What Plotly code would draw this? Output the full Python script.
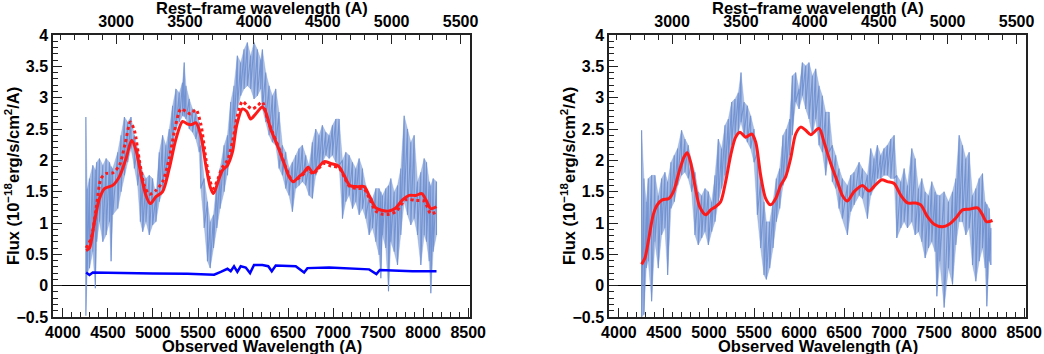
import plotly.graph_objects as go

# ---------------- data ----------------
redshift = 0.53
x_range = [3890, 8520]
y_range = [-0.5, 4.0]

# Left panel: observed spectrum envelope (wavelength, upper, lower)
lam_L = [4255, 4270, 4295, 4332, 4360, 4375, 4406, 4443, 4480, 4517, 4535, 4553, 4609, 4646, 4683,
         4719, 4756, 4793, 4830, 4860, 4886, 4922, 4959, 4996, 5033, 5070, 5107, 5144, 5181, 5218,
         5255, 5292, 5328, 5347, 5366, 5403, 5439, 5476, 5513, 5531, 5568, 5605, 5635, 5672, 5709,
         5745, 5790, 5827, 5863, 5900, 5937, 5974, 6011, 6048, 6085, 6122, 6159, 6196, 6215, 6252,
         6289, 6326, 6363, 6400, 6437, 6474, 6511, 6548, 6585, 6622, 6659, 6696, 6733, 6770, 6807,
         6844, 6881, 6919, 6956, 6993, 7030, 7067, 7104, 7141, 7178, 7215, 7252, 7289, 7326, 7363,
         7400, 7437, 7474, 7511, 7530, 7548, 7585, 7615, 7641, 7678, 7715, 7752, 7789, 7826, 7863,
         7900, 7937, 7974, 8011, 8037, 8067, 8085, 8111, 8148]
up_L = [2.69, 1.55, 1.71, 1.92, 1.85, 1.97, 2.03, 1.92, 2.03, 1.97, 1.90, 1.87, 2.13, 2.40, 2.69,
        2.61, 2.69, 2.40, 2.19, 1.97, 1.81, 1.71, 1.76, 1.71, 1.44, 2.13, 2.40, 2.24, 2.50, 2.87,
        3.14, 3.08, 3.24, 3.56, 3.19, 2.98, 2.82, 2.77, 2.61, 2.24, 1.71, 1.34, 1.02, 1.13, 1.66,
        1.87, 2.24, 2.40, 2.93, 3.19, 3.67, 3.56, 3.77, 3.88, 3.67, 3.88, 3.77, 3.61, 3.77, 3.40,
        3.19, 3.03, 3.14, 2.77, 2.24, 2.13, 1.87, 1.97, 2.08, 2.19, 2.24, 2.08, 1.92, 2.29, 2.50,
        2.40, 2.56, 2.45, 2.40, 2.56, 2.66, 2.66, 2.00, 2.13, 2.08, 1.97, 1.87, 2.03, 1.87, 1.60,
        1.44, 1.39, 1.55, 1.55, 1.50, 1.44, 1.55, 1.60, 1.71, 1.50, 1.60, 1.87, 2.71, 2.50, 2.29,
        2.40, 1.66, 1.81, 2.03, 1.97, 1.66, 1.60, 1.71, 1.66]
lo_L = [-0.48, 0.20, 0.28, 0.54, -0.04, 0.70, 1.02, 0.70, 0.81, 1.02, 0.39, 1.13, 1.23, 1.50, 1.76,
        1.97, 2.19, 1.87, 1.60, 1.02, 0.86, 1.02, 0.81, 0.97, 1.02, 1.34, 1.50, 1.66, 1.97, 2.24,
        2.50, 2.61, 2.71, 2.70, 2.66, 2.50, 2.45, 2.34, 2.13, 1.55, 0.92, 0.39, 0.28, 0.60, 0.92,
        1.23, 1.50, 1.76, 2.08, 2.40, 2.82, 3.03, 3.14, 3.19, 3.14, 2.98, 3.03, 3.14, 2.82, 2.61,
        2.40, 2.29, 2.24, 1.87, 1.76, 1.55, 1.44, 1.18, 1.55, 1.60, 1.66, 1.60, 1.44, 1.39, 1.76,
        1.87, 1.97, 2.08, 2.03, 2.08, 1.97, 1.92, 1.07, 1.34, 1.44, 1.23, 1.34, 1.13, 1.23, 1.07,
        0.81, 0.92, 0.70, 0.49, 0.12, 0.81, 0.60, -0.09, 0.70, 0.54, 0.33, 0.81, 1.34, 1.13, 0.97,
        1.07, 0.81, 0.33, 0.81, 0.70, 0.39, -0.12, 0.54, 0.81]

# Left panel: fit (solid), alternative fit (dotted), host/sky component (blue)
lamfit_L = [4258, 4295, 4350, 4406, 4461, 4553, 4627, 4701, 4764, 4812, 4875, 4922, 4970, 5033, 5107,
            5181, 5255, 5328, 5384, 5428, 5476, 5531, 5587, 5635, 5672, 5723, 5771, 5827, 5882, 5930,
            5993, 6041, 6085, 6140, 6214, 6252, 6307, 6381, 6456, 6511, 6556, 6622, 6678, 6722, 6778,
            6826, 6900, 6974, 7059, 7122, 7185, 7270, 7344, 7400, 7474, 7548, 7622, 7696, 7770, 7844,
            7919, 7985, 8030, 8085, 8148]
fit_L = [0.56, 0.60, 1.02, 1.39, 1.55, 1.60, 1.74, 2.03, 2.32, 2.16, 1.71, 1.44, 1.31, 1.42, 1.50,
         1.87, 2.34, 2.62, 2.58, 2.57, 2.60, 2.40, 1.92, 1.58, 1.47, 1.66, 1.84, 1.92, 2.13, 2.56,
         2.82, 2.78, 2.66, 2.74, 2.85, 2.77, 2.50, 2.24, 1.95, 1.74, 1.66, 1.74, 1.81, 1.89, 1.80,
         1.87, 1.98, 1.95, 1.91, 1.76, 1.60, 1.58, 1.58, 1.44, 1.24, 1.20, 1.19, 1.24, 1.37, 1.44,
         1.44, 1.47, 1.37, 1.23, 1.26]

lamdot_L = [4258, 4314, 4369, 4424, 4480, 4553, 4627, 4690, 4749, 4793, 4849, 4904, 4959, 5033, 5107,
            5181, 5236, 5310, 5366, 5421, 5476, 5531, 5587, 5635, 5672, 5723, 5771, 5827, 5882, 5937,
            5993, 6048, 6103, 6159, 6214, 6270, 6326, 6400, 6474, 6556, 6622, 6678, 6722, 6778, 6826,
            6900, 6974, 7067, 7122, 7185, 7270, 7344, 7400, 7474, 7548, 7622, 7696, 7807, 7919, 8011,
            8085, 8148]
dot_L = [0.60, 0.76, 1.23, 1.71, 1.79, 1.80, 1.92, 2.26, 2.61, 2.48, 2.00, 1.60, 1.46, 1.52, 1.66,
         2.03, 2.45, 2.82, 2.78, 2.74, 2.81, 2.58, 2.03, 1.66, 1.55, 1.71, 1.89, 2.00, 2.29, 2.71,
         2.94, 2.87, 2.82, 2.87, 2.93, 2.66, 2.45, 2.19, 1.89, 1.66, 1.72, 1.79, 1.86, 1.78, 1.85,
         1.95, 1.91, 1.88, 1.74, 1.58, 1.55, 1.54, 1.40, 1.19, 1.14, 1.14, 1.18, 1.37, 1.36, 1.35,
         1.15, 1.18]

lamhost_L = [4258, 4280, 4295, 4332, 4600, 5000, 5384, 5568, 5679, 5753, 5827, 5863, 5900, 5937, 5974,
             6030, 6078, 6122, 6214, 6280, 6319, 6363, 6585, 6678, 6715, 6956, 7400, 7481, 7519, 7881,
             8148]
host_L = [0.21, 0.19, 0.17, 0.21, 0.20, 0.195, 0.19, 0.185, 0.175, 0.22, 0.27, 0.23, 0.31, 0.22, 0.31,
          0.29, 0.20, 0.33, 0.33, 0.31, 0.23, 0.32, 0.31, 0.21, 0.28, 0.29, 0.26, 0.185, 0.25, 0.23,
          0.23]

# Right panel: observed spectrum envelope
lam_R = [4252, 4278, 4304, 4326, 4363, 4400, 4437, 4474, 4511, 4541, 4578, 4615, 4652, 4696, 4733,
         4770, 4807, 4844, 4881, 4919, 4956, 4993, 5030, 5067, 5104, 5141, 5178, 5215, 5252, 5289,
         5326, 5356, 5389, 5426, 5463, 5500, 5537, 5574, 5611, 5637, 5674, 5711, 5748, 5785, 5822,
         5859, 5896, 5926, 5963, 6000, 6037, 6074, 6111, 6148, 6185, 6222, 6259, 6296, 6333, 6370,
         6407, 6444, 6481, 6537, 6574, 6611, 6667, 6704, 6759, 6796, 6833, 6870, 6907, 6944, 6981,
         7019, 7056, 7085, 7130, 7167, 7204, 7252, 7289, 7326, 7363, 7400, 7437, 7474, 7511, 7530,
         7563, 7611, 7659, 7704, 7741, 7778, 7815, 7852, 7889, 7926, 7963, 8000, 8037, 8067, 8085,
         8111, 8130]
up_R = [2.48, 1.71, 1.34, 1.71, 1.76, 1.76, 1.44, 1.71, 1.81, 1.66, 1.97, 2.08, 2.19, 2.48, 2.34,
        2.24, 1.97, 1.81, 1.50, 1.44, 1.55, 1.50, 1.34, 1.76, 2.34, 2.19, 2.56, 2.66, 2.93, 2.98,
        3.08, 3.40, 2.93, 2.87, 2.71, 2.50, 2.13, 1.66, 1.34, 1.02, 1.02, 1.34, 1.71, 1.87, 2.40,
        2.50, 2.66, 3.35, 3.40, 3.14, 3.56, 3.51, 3.56, 3.35, 3.46, 3.19, 3.03, 2.77, 2.77, 2.24,
        2.08, 1.87, 1.71, 1.60, 1.76, 1.81, 1.97, 1.87, 1.76, 2.19, 2.03, 2.24, 2.08, 2.19, 2.24,
        2.34, 2.40, 1.76, 1.66, 1.87, 1.60, 2.19, 2.03, 1.55, 1.71, 1.50, 1.44, 1.66, 1.50, 1.45,
        1.44, 1.50, 1.34, 1.50, 1.71, 2.40, 2.24, 2.03, 2.13, 1.44, 1.55, 1.71, 1.79, 1.34, 1.30,
        1.23, 0.92]
lo_R = [-0.50, -0.46, 0.28, 0.39, -0.25, 0.70, 0.28, 0.81, 0.92, 0.17, 1.23, 1.34, 1.60, 1.76, 1.81,
        1.71, 1.50, 0.81, 0.65, 0.76, 0.86, 0.65, 0.86, 1.02, 1.34, 1.55, 1.76, 1.97, 2.24, 2.40,
        2.45, 2.61, 2.40, 2.29, 2.19, 1.97, 1.13, 0.60, 0.17, 0.10, 0.28, 0.60, 1.02, 1.23, 1.60,
        1.76, 2.08, 2.40, 2.93, 2.82, 3.03, 2.82, 2.66, 2.40, 2.66, 2.24, 2.13, 1.76, 2.13, 1.66,
        1.55, 1.23, 1.07, 0.81, 1.18, 1.29, 1.44, 1.39, 1.07, 1.44, 1.55, 1.71, 1.71, 1.76, 1.76,
        1.71, 1.71, 0.76, 0.92, 1.02, 0.92, 1.02, 0.81, 0.86, 0.70, 0.44, 0.60, 0.70, 0.54, -0.17,
        0.39, -0.35, 0.28, 0.02, 0.65, 1.02, 1.02, 0.81, 0.92, 0.33, 0.07, 0.39, 0.60, 0.28, -0.33,
        0.39, 0.33]

# Right panel: fit (solid)
lamfit_R = [4252, 4289, 4333, 4381, 4426, 4481, 4556, 4611, 4667, 4722, 4759, 4796, 4844, 4896, 4963,
            5019, 5074, 5130, 5185, 5241, 5296, 5344, 5407, 5474, 5519, 5574, 5630, 5685, 5741, 5796,
            5852, 5907, 5963, 6019, 6074, 6130, 6222, 6278, 6352, 6426, 6481, 6537, 6611, 6704, 6778,
            6844, 6919, 6981, 7056, 7130, 7204, 7296, 7352, 7426, 7500, 7593, 7667, 7741, 7815, 7889,
            7982, 8030, 8082, 8148]
fit_R = [0.34, 0.44, 0.76, 1.13, 1.29, 1.37, 1.39, 1.52, 1.81, 2.05, 2.12, 1.97, 1.60, 1.26, 1.13,
         1.21, 1.26, 1.34, 1.66, 2.08, 2.37, 2.45, 2.37, 2.42, 2.29, 1.76, 1.39, 1.29, 1.39, 1.60,
         1.74, 2.03, 2.42, 2.53, 2.48, 2.41, 2.51, 2.29, 1.95, 1.66, 1.44, 1.35, 1.50, 1.60, 1.51,
         1.60, 1.69, 1.66, 1.63, 1.44, 1.32, 1.32, 1.29, 1.10, 0.98, 0.94, 0.98, 1.08, 1.21, 1.22,
         1.24, 1.15, 1.02, 1.04]

x_title = "Observed Wavelength (A)"
top_title = "Rest\u2013frame wavelength (A)"
y_title = "Flux (10<sup>\u221218</sup>erg/s/cm<sup>2</sup>/A)"

# ---------------- styling ----------------
W, H = 1044, 354
FONT = "Liberation Sans, Arial, sans-serif"
SPEC_FILL = "rgba(120,152,212,0.62)"
SPEC_LINE = "rgba(112,144,210,0.95)"
RED = "#ff1a1a"
BLUE = "#0000ff"
FS = 16.5
FS_TICK = 16

# plot area pixel boxes in page coordinates (left, right, top, bottom)
panels = [(53, 470, 35, 317), (609, 1026, 35, 317)]


def px(v):
    return v / W


def py(v):
    return 1 - v / H


fig = go.Figure()


def spectrum(lam, up, lo, xa, ya):
    # light envelope of the noisy spectrum
    env = go.Scatter(x=list(lam) + list(lam[::-1]), y=list(up) + list(lo[::-1]),
                     fill="toself", fillcolor=SPEC_FILL, mode="lines",
                     line=dict(color=SPEC_FILL, width=0.5), xaxis=xa, yaxis=ya,
                     showlegend=False, hoverinfo="skip")
    # the jagged spectrum itself: swings between the read maxima and minima
    zx, zy = [], []
    for l, u, d in zip(lam, up, lo):
        zx += [l, l]
        zy += [u, d]
    jag = go.Scatter(x=zx, y=zy, mode="lines", line=dict(color=SPEC_LINE, width=1.1),
                     xaxis=xa, yaxis=ya, showlegend=False, hoverinfo="skip")
    return [env, jag]


# left panel traces
fig.add_traces(spectrum(lam_L, up_L, lo_L, "x", "y"))
fig.add_trace(go.Scatter(x=lamdot_L, y=dot_L, mode="lines", xaxis="x", yaxis="y",
                         line=dict(color=RED, width=3, dash="dot", shape="spline", smoothing=0.8),
                         showlegend=False))
fig.add_trace(go.Scatter(x=lamfit_L, y=fit_L, mode="lines", xaxis="x", yaxis="y",
                         line=dict(color=RED, width=3, shape="spline", smoothing=0.8),
                         showlegend=False))
fig.add_trace(go.Scatter(x=lamhost_L, y=host_L, mode="lines", xaxis="x", yaxis="y",
                         line=dict(color=BLUE, width=2.5), showlegend=False))
# invisible trace anchoring the rest-frame axis of the left panel
fig.add_trace(go.Scatter(x=[l / (1 + redshift) for l in lamfit_L], y=fit_L, mode="lines",
                         xaxis="x3", yaxis="y", opacity=0, showlegend=False, hoverinfo="skip"))

# right panel traces
fig.add_traces(spectrum(lam_R, up_R, lo_R, "x2", "y2"))
fig.add_trace(go.Scatter(x=lamfit_R, y=fit_R, mode="lines", xaxis="x2", yaxis="y2",
                         line=dict(color=RED, width=3, shape="spline", smoothing=0.8),
                         showlegend=False))
fig.add_trace(go.Scatter(x=[l / (1 + redshift) for l in lamfit_R], y=fit_R, mode="lines",
                         xaxis="x4", yaxis="y2", opacity=0, showlegend=False, hoverinfo="skip"))

tickfont = dict(family=FONT, size=FS_TICK, color="black", weight="bold")


def xaxis_cfg(dom, anchor, rng, side="bottom", overlay=None):
    d = dict(domain=dom, anchor=anchor, range=rng, side=side, dtick=500, tick0=0,
             ticks="inside", ticklen=9, tickwidth=1.2, tickcolor="#222",
             minor=dict(dtick=100, ticks="inside", ticklen=5, tickwidth=1, tickcolor="#222",
                        showgrid=False),
             showgrid=False, zeroline=False, showline=True, linecolor="#222", linewidth=1.5,
             tickfont=tickfont, fixedrange=True, automargin=False)
    if overlay:
        d["overlaying"] = overlay
    return d


def yaxis_cfg(dom, anchor):
    return dict(domain=dom, anchor=anchor, range=y_range, dtick=0.5, tick0=0,
                ticks="inside", ticklen=9, tickwidth=1.2, tickcolor="#222",
                minor=dict(dtick=0.1, ticks="inside", ticklen=5, tickwidth=1, tickcolor="#222",
                           showgrid=False),
                showgrid=False, zeroline=True, zerolinecolor="black", zerolinewidth=1.2,
                showline=True, mirror=True, linecolor="#222", linewidth=1.5,
                tickfont=tickfont, fixedrange=True, automargin=False)


layout = {}
annotations = []
axes = [("xaxis", "yaxis", "xaxis3", "x", "y"), ("xaxis2", "yaxis2", "xaxis4", "x2", "y2")]
for (l, r, t, b), (xk, yk, tk, xn, yn) in zip(panels, axes):
    xdom = [px(l), px(r)]
    ydom = [py(b), py(t)]
    layout[xk] = xaxis_cfg(xdom, yn, x_range)
    layout[tk] = xaxis_cfg(xdom, yn, [v / (1 + redshift) for v in x_range], side="top", overlay=xn)
    layout[yk] = yaxis_cfg(ydom, xn)
    cx = px((l + r) / 2)
    annotations.append(dict(text=x_title, x=cx, y=py(346), xref="paper", yref="paper",
                            showarrow=False, xanchor="center", yanchor="middle",
                            font=dict(family=FONT, size=FS, color="black", weight="bold")))
    annotations.append(dict(text=top_title, x=cx, y=py(8), xref="paper", yref="paper",
                            showarrow=False, xanchor="center", yanchor="middle",
                            font=dict(family=FONT, size=FS, color="black", weight="bold")))
    annotations.append(dict(text=y_title, x=px(l - 41), y=py((t + b) / 2), xref="paper",
                            yref="paper", showarrow=False, textangle=-90, xanchor="center",
                            yanchor="middle",
                            font=dict(family=FONT, size=FS, color="black", weight="bold")))

fig.update_layout(width=W, height=H, margin=dict(l=0, r=0, t=0, b=0),
                  paper_bgcolor="white", plot_bgcolor="white",
                  annotations=annotations, **layout)

# remove the default 8px body margin so the figure fills the window exactly
fig.write_html("out.html", config={"displayModeBar": False},
               post_script="document.body.style.margin='0';document.body.style.overflow='hidden';")
